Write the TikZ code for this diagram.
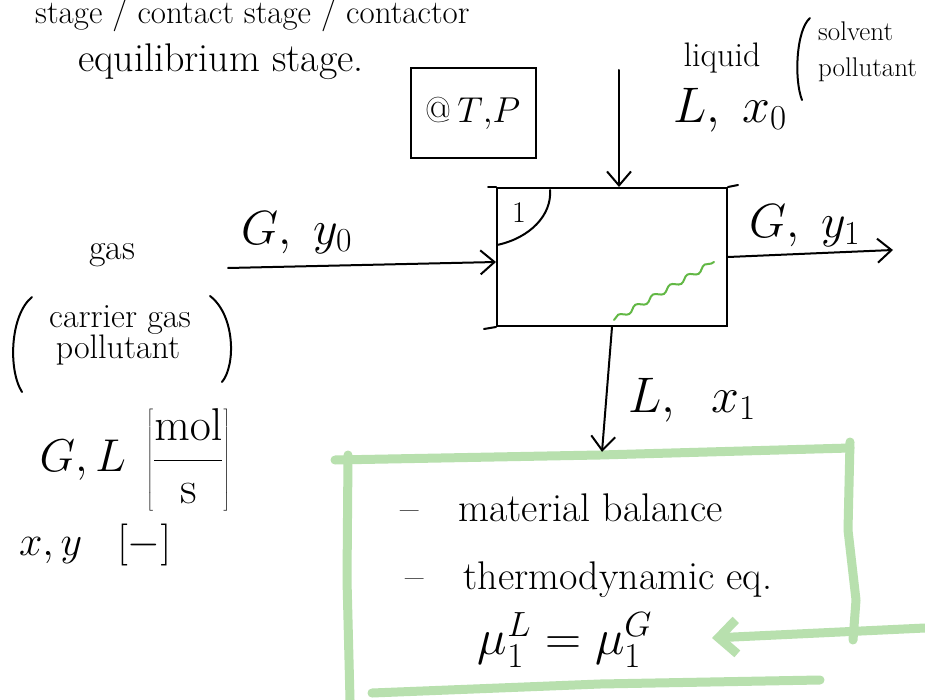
\RequirePackage{fix-cm}
\documentclass[tikz,border=0pt]{standalone}
\usetikzlibrary{arrows.meta,decorations.pathmorphing}
\definecolor{boxgreen}{HTML}{B8E0AE}
\definecolor{wavegreen}{HTML}{62B845}
\begin{document}
\begin{tikzpicture}[x=1pt,y=-1pt,
  ink/.style={line width=2pt,black,line cap=round},
  flow/.style={ink,-{Straight Barb[length=14pt,width=24pt,line width=2pt]}},
  fs/.style={font=\fontsize{#1}{#1}\selectfont,inner sep=0pt},
  greenline/.style={line width=9pt,boxgreen,line cap=round,line join=round}]
\clip (0,0) rectangle (925,700);
\fill[white] (0,0) rectangle (925,700);

% top texts
\node[fs=33,anchor=base west] (ttl) at (35,24) {stage / contact stage / contactor};
\node[fs=40,anchor=base west] (eqs) at (78,72) {equilibrium stage.};

% @T,P box
\node[ink,draw,fs=36,minimum width=125,minimum height=90] (tp) at (473,113) {@\,$T{,}P$};

% main stage
\node[ink,draw,minimum width=230,minimum height=138,inner sep=0pt] (stage) at (612,257) {};
\draw[ink] (stage.north west) -- ++(-8,0);
\draw[ink] (stage.north east) -- ++(10,-2);
\draw[ink] (stage.south west) -- ++(-12,2);
\draw[ink] (497,245) .. controls (530,238) and (552,215) .. (550,190);
\node[fs=30] (one) at (519,213) {1};
\draw[wavegreen,line width=2pt,line cap=round,decorate,decoration={snake,amplitude=2.5pt,segment length=20pt}]
  (614,320) -- (714,262);

% liquid inlet
\coordinate (lin) at (619,70);
\draw[flow] (lin) -- (lin |- stage.north);
\node[fs=34] (liq) at (722,58) {liquid};
\draw[ink] (810,18) .. controls (796,30) and (794,80) .. (802,100);
\node[fs=27,anchor=north west] (solv) at (818,22) {solvent};
\node[fs=27,anchor=north west] (poll) at (818,58) {pollutant};
\node[fs=50] (lx0) at (730,110) {$L,\;x_0$};

% gas inlet
\coordinate (gin) at (228,268);
\draw[flow] (gin) -- ([yshift=-5pt]stage.west);
\node[fs=48] (gy0) at (297,233) {$G,\;y_0$};

% gas outlet
\coordinate (gout) at (893,250);
\draw[flow] (stage.east) -- (gout);
\node[fs=48] (gy1) at (805,226) {$G,\;y_1$};

% left legend
\node[fs=36] (gas) at (112,255) {gas};
\draw[ink] (32,297) .. controls (10,315) and (8,370) .. (22,392);
\draw[ink] (210,296) .. controls (235,315) and (236,365) .. (222,382);
\node[fs=34] (carrier) at (120,320) {carrier gas};
\node[fs=34] (pollut) at (118,350) {pollutant};
\node[fs=46] (units) at (135,460) {$G,L\;\left[\displaystyle\frac{\mathrm{mol}}{\mathrm{s}}\right]$};
\node[fs=42] (dimless) at (95,545) {$x,y\;\;\;[-]$};

% equations box
\node[minimum width=502,minimum height=238,inner sep=0pt] (eqbox) at (602,571) {};
\draw[greenline] (335,460) -- (600,455) -- (850,448);
\draw[greenline] (348,455) -- (347,580) -- (350,700);
\draw[greenline] (850,442) -- (848,530) -- (856,600) -- (853,640);
\draw[greenline] (372,693) -- (600,684) -- (820,680);
\draw[flow] (stage.south) -- (eqbox.north);
\node[fs=50] (lx1) at (692,400) {$L,\;\;x_1$};
\node[fs=40,anchor=west] (mb) at (400,508) {--\quad material balance};
\node[fs=40,anchor=west] (te) at (405,580) {--\quad thermodynamic eq.};
\node[fs=50] (mu) at (565,640) {$\mu_1^{L}=\mu_1^{G}$};

% green arrow
\coordinate (gsrc) at (925,628);
\coordinate (gtip) at (712,638);
\draw[greenline,-{Straight Barb[length=18pt,width=34pt,line width=9pt]}] (gsrc) -- (gtip);
\end{tikzpicture}
\end{document}
